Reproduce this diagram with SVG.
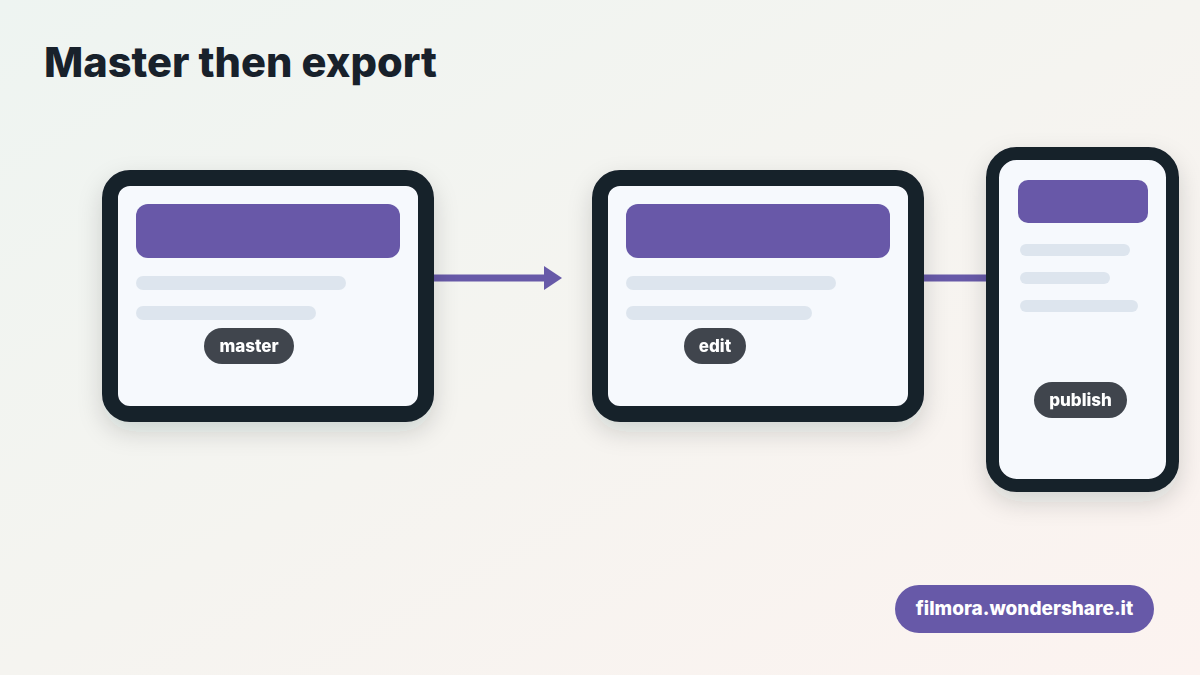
<svg xmlns="http://www.w3.org/2000/svg" width="1200" height="675" viewBox="0 0 1200 675">
<defs>
<linearGradient id="bg" x1="0" y1="0" x2="1" y2="1">
<stop offset="0" stop-color="#eef4f1"/>
<stop offset="0.5" stop-color="#f5f4f0"/>
<stop offset="1" stop-color="#fcf3f0"/>
</linearGradient>
<filter id="sh" x="-20%" y="-20%" width="140%" height="150%">
<feDropShadow dx="0" dy="10" stdDeviation="12" flood-color="#18212b" flood-opacity="0.16"/>
</filter>
<marker id="ah" viewBox="0 0 18 24" refX="0" refY="12" markerWidth="18" markerHeight="24" markerUnits="userSpaceOnUse" orient="auto">
<path d="M0,0 L18,12 L0,24 Z" fill="#6759a8"/>
</marker>
<style>
.frame{fill:#f6f9fd;stroke:#18212b}
.bar{fill:#6759a8}
.line{fill:#dde5ee}
.pill{fill:#3f454d}
.pt{font-family:Inter,"Liberation Sans",sans-serif;font-weight:800;font-size:17px;fill:#ffffff;text-anchor:middle}
.conn{stroke:#6759a8;stroke-width:7;stroke-linecap:round;fill:none}
</style>
</defs>
<rect width="1200" height="675" fill="url(#bg)"/>
<text x="44" y="77" font-family="Inter,'Liberation Sans',sans-serif" font-weight="800" font-size="41.6" fill="#18212b">Master then export</text>
<g id="connectors">
<line class="conn" x1="433" y1="278" x2="544" y2="278" marker-end="url(#ah)"/>
<line class="conn" x1="923" y1="278" x2="992" y2="278"/>
</g>
<g id="node-master" filter="url(#sh)">
<rect class="frame" x="110" y="178" width="316" height="236" rx="20" stroke-width="16"/>
<rect class="bar" x="136" y="204" width="264" height="54" rx="12"/>
<rect class="line" x="136" y="276" width="210" height="14" rx="7"/>
<rect class="line" x="136" y="306" width="180" height="14" rx="7"/>
<rect class="pill" x="204" y="328" width="90" height="36" rx="18"/>
<text class="pt" x="249" y="352">master</text>
</g>
<g id="node-edit" filter="url(#sh)">
<rect class="frame" x="600" y="178" width="316" height="236" rx="20" stroke-width="16"/>
<rect class="bar" x="626" y="204" width="264" height="54" rx="12"/>
<rect class="line" x="626" y="276" width="210" height="14" rx="7"/>
<rect class="line" x="626" y="306" width="186" height="14" rx="7"/>
<rect class="pill" x="684" y="328" width="62" height="36" rx="18"/>
<text class="pt" x="715" y="352">edit</text>
</g>
<g id="node-publish" filter="url(#sh)">
<rect class="frame" x="992.5" y="153.5" width="180" height="332" rx="24" stroke-width="13"/>
<rect class="bar" x="1018" y="180" width="130" height="43" rx="10"/>
<rect class="line" x="1020" y="244" width="110" height="12" rx="6"/>
<rect class="line" x="1020" y="272" width="90" height="12" rx="6"/>
<rect class="line" x="1020" y="300" width="118" height="12" rx="6"/>
<rect class="pill" x="1034" y="382" width="93" height="36" rx="18"/>
<text class="pt" x="1080.5" y="406">publish</text>
</g>
<g id="footer">
<rect x="895" y="585" width="259" height="48" rx="24" fill="#6759a8"/>
<text x="1024.5" y="615" font-family="Inter,'Liberation Sans',sans-serif" font-weight="800" font-size="19" fill="#ffffff" text-anchor="middle">filmora.wondershare.it</text>
</g>
</svg>
